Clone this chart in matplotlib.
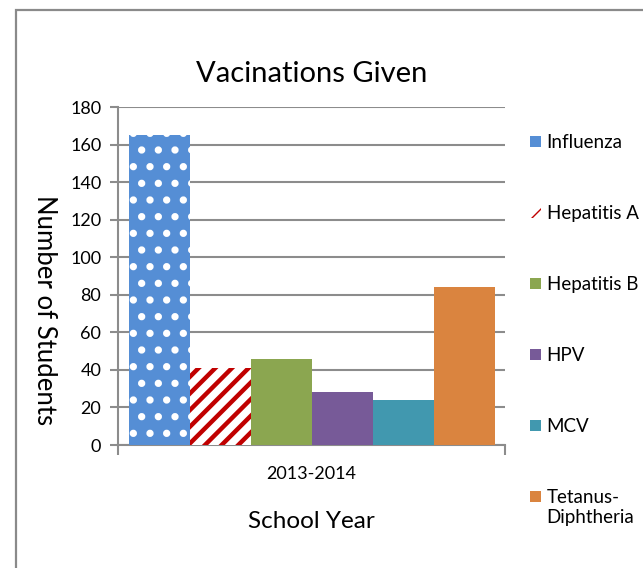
import matplotlib
matplotlib.use("Agg")
import matplotlib.pyplot as plt
import matplotlib.patches as mpatches
import numpy as np

plt.rcParams['font.family'] = ['Lato', 'DejaVu Sans']

# Données du graphique
school_year = "2013-2014"
vaccines = ["Influenza", "Hepatitis A", "Hepatitis B", "HPV", "MCV", "Tetanus-\nDiphtheria"]
students = [165, 41, 46, 28, 24, 84]
y_ticks = [0, 20, 40, 60, 80, 100, 120, 140, 160, 180]

# Styles des barres
face_colors = ['#558ED5', '#FFFFFF', '#8BA650', '#775A98', '#4198AF', '#DA843F']
hatch_colors = ['#FFFFFF', '#C00000', None, None, None, None]
hatches = ['.', '//', None, None, None, None]
hatch_widths = [2.8, 3.2, 1, 1, 1, 1]

grid_color = '#8C8C8C'
legend_size = 13.5

fig = plt.figure(figsize=(6.43, 5.68), dpi=100)
ax = fig.add_axes([118 / 643, 1 - 445 / 568, 387 / 643, 338 / 568])

"""Cadre gris autour de la figure"""
frame = mpatches.Rectangle((16 / 643, -0.1), 1.2, 1.1 - 10 / 568,
                           transform=fig.transFigure, fill=False,
                           edgecolor='#8A8A8A', linewidth=1.6, clip_on=False)
fig.patches.append(frame)

"""Barres groupées autour de la catégorie"""
n = len(vaccines)
offsets = np.arange(n) - (n - 1) / 2
for i in range(n):
    ec = hatch_colors[i] if hatch_colors[i] else face_colors[i]
    bar = ax.bar(offsets[i], students[i], width=1.0, color=face_colors[i],
                 edgecolor=ec, linewidth=0, hatch=hatches[i],
                 label=vaccines[i], zorder=3)
    for p in bar.patches:
        if hasattr(p, 'set_hatch_linewidth'):
            p.set_hatch_linewidth(hatch_widths[i])

half = 387 / 61 / 2
ax.set_xlim(-half, half)
ax.set_ylim(0, 180)
ax.set_yticks(y_ticks)
ax.tick_params(axis='y', labelsize=13, length=6, width=1.5, color=grid_color,
               pad=6)
ax.yaxis.grid(True, color=grid_color, linewidth=1.5, zorder=0)
ax.set_axisbelow(True)

"""Axe x : graduations aux bords, étiquette au centre"""
ax.set_xticks([-half, half])
ax.set_xticklabels(['', ''])
ax.tick_params(axis='x', which='major', length=7, width=1.5, color=grid_color)
ax.set_xticks([0], minor=True)
ax.set_xticklabels([school_year], minor=True)
ax.tick_params(axis='x', which='minor', length=0, labelsize=13, pad=15)

for side in ['top', 'right']:
    ax.spines[side].set_visible(False)
for side in ['left', 'bottom']:
    ax.spines[side].set_color(grid_color)
    ax.spines[side].set_linewidth(1.5)

ax.set_title("Vacinations Given", fontsize=21, pad=18)
ax.set_xlabel("School Year", fontsize=17.5, labelpad=21)
ax.set_ylabel("Number of Students", fontsize=18.5, rotation=270,
              va='center', ha='center')
ax.yaxis.set_label_coords(-0.191, 0.40)

"""Légende à droite, entrées espacées"""
leg = ax.legend(loc='upper left', bbox_to_anchor=(530 / 643, 1 - 134 / 568),
                bbox_transform=fig.transFigure, frameon=False,
                fontsize=legend_size, handlelength=0.59, handleheight=0.53,
                handletextpad=0.3, labelspacing=2.88, borderpad=0,
                borderaxespad=0)

"""Le carré de la dernière entrée sur la première ligne du texte"""
last = leg.legend_handles[-1]
last.set_y(last.get_y() + 0.6 * legend_size)

fig.savefig("out.png", dpi=100)
